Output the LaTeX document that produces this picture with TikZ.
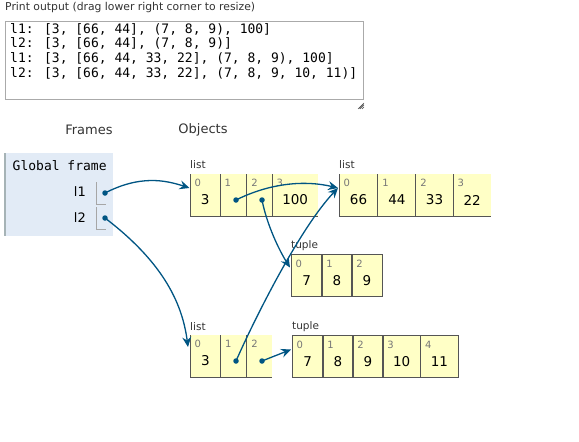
\documentclass[tikz,border=0pt]{standalone}
\usepackage{fontspec}
\setmainfont{DejaVu Sans}
\newfontfamily\monof{DejaVu Sans Mono}
\usetikzlibrary{arrows.meta,calc}
\definecolor{cellfill}{HTML}{FFFFC6}
\definecolor{cellborder}{HTML}{555555}
\definecolor{ptr}{HTML}{005583}
\definecolor{framebg}{HTML}{E2EBF6}
\definecolor{frameline}{HTML}{A6B3B6}
\definecolor{idxgray}{HTML}{777777}
\definecolor{labgray}{HTML}{333333}
\definecolor{boxgray}{HTML}{AAAAAA}
\tikzset{
  cellbox/.style={rectangle, fill=cellfill, draw=none, inner sep=0pt, minimum height=42pt},
  idxlab/.style={inner sep=0pt, font=\fontsize{10}{11}\selectfont, text=idxgray, anchor=west},
  vallab/.style={inner sep=0pt, font=\fontsize{13.5}{15}\selectfont, text=black},
  typelab/.style={inner sep=0pt, font=\fontsize{10.5}{12}\selectfont, text=labgray, anchor=west},
  cellline/.style={draw=cellborder, line width=1pt},
  ptrdot/.style={circle, fill=ptr, inner sep=0pt, minimum size=5.5pt},
  ptrarrow/.style={draw=ptr, line width=1.3pt, -{Stealth[length=10pt,width=9pt,inset=3.5pt]}},
  printline/.style={inner sep=0pt, anchor=west, font=\monof\fontsize{13}{15}\selectfont},
  headlab/.style={inner sep=0pt, font=\fontsize{13}{15}\selectfont, text=labgray},
}
\newcommand{\pycell}[6]{%
  \node[cellbox, minimum width=#4pt, anchor=north west] (#1) at (#2,#3) {};
  \node[idxlab] (#1i) at ($(#1.north west)+(4.5,9)$) {#5};
  \node[vallab] (#1v) at ($(#1.north)+(0,26)$) {#6};
}
\begin{document}
\begin{tikzpicture}[x=1pt,y=-1pt]
\useasboundingbox (0,0) rectangle (579,442);
% print output
\node[inner sep=0pt, anchor=west, font=\fontsize{10.8}{12}\selectfont, text=labgray] (ptitle) at (5,8) {Print output (drag lower right corner to resize)};
\node[draw=boxgray, line width=1pt, fill=white, minimum width=358pt, minimum height=78pt, anchor=north west, inner sep=0pt] (pbox) at (5,21) {};
\node[printline] (p1) at (10,29) {l1: [3, [66, 44], (7, 8, 9), 100]};
\node[printline] (p2) at (10,43.7) {l2: [3, [66, 44], (7, 8, 9)]};
\node[printline] (p3) at (10,58.4) {l1: [3, [66, 44, 33, 22], (7, 8, 9), 100]};
\node[printline] (p4) at (10,73) {l2: [3, [66, 44, 33, 22], (7, 8, 9, 10, 11)]};
\draw[black!70, line width=0.6pt] (358,109) -- (364,103) (360,109) -- (364,105) (362,109) -- (364,107) (359,108.5) -- (363.5,104);
% headings
\node[headlab] (hframes) at (89,130) {Frames};
\node[headlab] (hobjects) at (203,130) {Objects};
% global frame
\node[fill=framebg, minimum width=108pt, minimum height=83pt, anchor=north west, inner sep=0pt] (gframe) at (5,153) {};
\draw[frameline, line width=1.5pt] (gframe.north west) -- (gframe.south west);
\node[inner sep=0pt, anchor=west, font=\monof\fontsize{13}{15}\selectfont] (gtitle) at (12.5,166) {Global frame};
\node[inner sep=0pt, anchor=east, font=\fontsize{13}{15}\selectfont] (v1) at (86,192) {l1};
\node[inner sep=0pt, anchor=east, font=\fontsize{13}{15}\selectfont] (v2) at (86,218) {l2};
\draw[black!35, line width=1pt] (96,182) -- (96,204) -- (106,204);
\draw[black!35, line width=1pt] (96,207) -- (96,229) -- (106,229);
\node[ptrdot] (f1) at (105,193) {};
\node[ptrdot] (f2) at (105,218) {};
% list 1
\node[typelab] (t1) at (190,165) {list};
\pycell{La}{190}{174}{30}{0}{3}
\pycell{Lb}{220}{174}{26.7}{1}{}
\pycell{Lc}{246.7}{174}{25.3}{2}{}
\pycell{Ld}{272}{174}{46}{3}{100}
\foreach \c in {La,Lb,Lc,Ld}{\draw[cellline] (\c.north west) -- (\c.south west) -- (\c.south east);}
% list 2
\node[typelab] (t2) at (339,165) {list};
\pycell{Ma}{339}{174}{38.7}{0}{66}
\pycell{Mb}{377.7}{174}{38}{1}{44}
\pycell{Mc}{415.7}{174}{37.3}{2}{33}
\pycell{Md}{453}{174}{38}{3}{22}
\foreach \c in {Ma,Mb,Mc,Md}{\draw[cellline] (\c.north west) -- (\c.south west) -- (\c.south east);}
% tuple 1
\node[typelab] (t3) at (291,246) {tuple};
\pycell{Ta}{291}{254.5}{30.7}{0}{7}
\pycell{Tb}{321.7}{254.5}{30}{1}{8}
\pycell{Tc}{351.7}{254.5}{30}{2}{9}
\foreach \c in {Ta,Tb,Tc}{\draw[cellline] (\c.north west) rectangle (\c.south east);}
% list 3
\node[typelab] (t4) at (190,327) {list};
\pycell{Na}{190}{335}{30.3}{0}{3}
\pycell{Nb}{220.3}{335}{26.4}{1}{}
\pycell{Nc}{246.7}{335}{25.3}{2}{}
\foreach \c in {Na,Nb,Nc}{\draw[cellline] (\c.north west) -- (\c.south west) -- (\c.south east);}
% tuple 2
\node[typelab] (t5) at (292,327) {tuple};
\pycell{Ua}{292}{335.5}{30.7}{0}{7}
\pycell{Ub}{322.7}{335.5}{30}{1}{8}
\pycell{Uc}{352.7}{335.5}{30}{2}{9}
\pycell{Ud}{382.7}{335.5}{37.6}{3}{10}
\pycell{Ue}{420.3}{335.5}{37.7}{4}{11}
\foreach \c in {Ua,Ub,Uc,Ud,Ue}{\draw[cellline] (\c.north west) rectangle (\c.south east);}
% pointer dots
\node[ptrdot] (d1) at (236,200) {};
\node[ptrdot] (d2) at (262,200) {};
\node[ptrdot] (d3) at (236,361) {};
\node[ptrdot] (d4) at (262,361) {};
% arrow targets
\coordinate (aL) at ($(La.north west)+(-0.5,14)$);
\coordinate (aM) at ($(Ma.north west)+(-1,14)$);
\coordinate (aT) at ($(Ta.north west)+(-1,13)$);
\coordinate (aN) at ($(Na.north west)+(-2,12)$);
\coordinate (aU) at ($(Ua.north west)+(-1,14)$);
% arrows
\draw[ptrarrow] (f1.center) .. controls (140,175) and (165,180) .. (aL);
\draw[ptrarrow] (f2.center) .. controls (160,260) and (182,300) .. (aN);
\draw[ptrarrow] (d1.center) .. controls (270,183) and (305,180) .. (aM);
\draw[ptrarrow] (d2.center) .. controls (267,225) and (279,250) .. (aT);
\draw[ptrarrow] (d3.center) .. controls (255,318) and (300,228) .. (aM);
\draw[ptrarrow] (d4.center) -- (aU);
\end{tikzpicture}
\end{document}
